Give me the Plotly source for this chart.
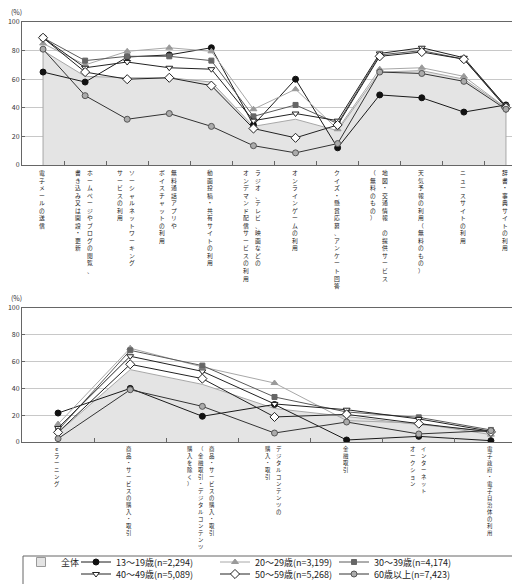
import plotly.graph_objects as go

# ---------------- data ----------------
top_labels = [
    ["電子メールの送信"],
    ["ホームページやブログの閲覧、", "書き込み又は開設・更新"],
    ["ソーシャルネットワーキング", "サービスの利用"],
    ["無料通話アプリや", "ボイスチャットの利用"],
    ["動画投稿・共有サイトの利用"],
    ["ラジオ、テレビ、映画などの", "オンデマンド配信サービスの利用"],
    ["オンラインゲームの利用"],
    ["クイズ・懸賞応募、アンケート回答"],
    ["地図・交通情報 の提供サービス", "（無料のもの）"],
    ["天気予報の利用（無料のもの）"],
    ["ニュースサイトの利用"],
    ["辞書・事典サイトの利用"],
]
top_total = [80, 62, 61, 61, 58, 27, 32, 24, 65, 66, 60, 40]
top_13_19 = [65, 58, 75.5, 77, 82, 28, 60, 12, 49, 47, 37, 42]
top_20_29 = [85, 70, 79.5, 82, 79.5, 39, 53, 25, 67, 68, 62, 40]
top_30_39 = [89, 73, 76, 76, 73, 34, 42, 29, 77, 80, 74, 41]
top_40_49 = [89, 68, 72, 68, 67, 31, 36, 31, 78, 82, 75, 41]
top_50_59 = [89, 65, 60, 61, 55.5, 25.5, 19, 28, 76, 79, 74, 40]
top_60_up = [81, 48.5, 32, 36, 27, 13.5, 8.5, 15, 65, 64, 58.5, 39]

bottom_labels = [
    ["eラーニング"],
    ["商品・サービスの購入・取引"],
    ["商品・サービスの購入・取引", "（金融取引・デジタルコンテンツ", "購入を除く）"],
    ["デジタルコンテンツの", "購入・取引"],
    ["金融取引"],
    ["インターネット", "オークション"],
    ["電子政府・電子自治体の利用"],
]
bot_total = [7, 54, 43, 25, 19, 13, 8]
bot_13_19 = [21.6, 40, 19.2, 28, 1.5, 4.2, 1]
bot_20_29 = [13.4, 70, 56, 44, 16, 14, 5.5]
bot_30_39 = [8.7, 68.4, 57, 33.6, 22.4, 18.4, 9]
bot_40_49 = [10.4, 64, 52.7, 28.4, 24.1, 17.2, 8]
bot_50_59 = [7.2, 58, 47.3, 18.7, 20.6, 13.7, 7.5]
bot_60_up = [2.5, 39, 26.6, 6.7, 14.9, 6, 8.5]

total_name = "全体"
series_names = ["13〜19歳(n=2,294)", "20〜29歳(n=3,199)", "30〜39歳(n=4,174)",
                "40〜49歳(n=5,089)", "50〜59歳(n=5,268)", "60歳以上(n=7,423)"]
y_ticks = [0, 20, 40, 60, 80, 100]

top_series = [top_13_19, top_20_29, top_30_39, top_40_49, top_50_59, top_60_up]
bot_series = [bot_13_19, bot_20_29, bot_30_39, bot_40_49, bot_50_59, bot_60_up]

# ---------------- styles ----------------
FONT = "Noto Sans CJK JP"
styles = [
    dict(line="#1a1a1a", symbol="circle", fill="#111111", edge="#111111", size=6),
    dict(line="#a8a8a8", symbol="triangle-up", fill="#9a9a9a", edge="#9a9a9a", size=6),
    dict(line="#5a5a5a", symbol="square", fill="#666666", edge="#666666", size=5),
    dict(line="#222222", symbol="triangle-down", fill="#ffffff", edge="#222222", size=6),
    dict(line="#222222", symbol="diamond", fill="#ffffff", edge="#222222", size=7),
    dict(line="#333333", symbol="circle", fill="#ababab", edge="#555555", size=6),
]
AREA_FILL = "#e4e4e4"
AREA_LINE = "#a8a8a8"

W, H = 520, 584
ML, MR, MT, MB = 14, 1, 14, 150
PW = W - ML - MR
PH = H - MT - MB


def py(px_y):  # pixel y -> paper y
    return (H - MB - px_y) / PH


def pxx(px_x):  # pixel x -> paper x
    return (px_x - ML) / PW


fig = go.Figure()

panels = [
    ("x", "y", top_total, top_series, True),
    ("x2", "y2", bot_total, bot_series, False),
]
for xa, ya, total, series, show in panels:
    n = len(total)
    idx = list(range(n))
    fig.add_trace(go.Scatter(
        x=[idx[0]] + idx + [idx[-1]], y=[0] + total + [0],
        mode="lines", fill="toself", fillcolor=AREA_FILL,
        line=dict(color=AREA_LINE, width=1), showlegend=False,
        hoverinfo="skip", xaxis=xa, yaxis=ya, name=total_name))
    for k, (vals, st) in enumerate(zip(series, styles)):
        fig.add_trace(go.Scatter(
            x=idx, y=vals, mode="lines+markers", name=series_names[k],
            line=dict(color=st["line"], width=1),
            marker=dict(symbol=st["symbol"], size=st["size"], color=st["fill"],
                        line=dict(color=st["edge"], width=1)),
            xaxis=xa, yaxis=ya, showlegend=show,
            legend=f"legend{k + 2}" if show else None))

# legend-only marker for the 全体 area
fig.add_trace(go.Scatter(
    x=[None], y=[None], mode="markers", name=total_name,
    marker=dict(symbol="square", size=9, color=AREA_FILL,
                line=dict(color="#999999", width=1)),
    legend="legend", xaxis="x", yaxis="y"))

axis_common = dict(showline=True, mirror=True, linecolor="#666666", linewidth=1,
                   zeroline=False)
n_top = len(top_total)
n_bot = len(bot_total)
fig.update_layout(
    xaxis=dict(domain=[0, 1], anchor="y", range=[-0.5, n_top - 0.5],
               tickmode="array", tickvals=[i + 0.5 for i in range(n_top - 1)],
               ticks="inside", ticklen=4, tickcolor="#666666",
               showticklabels=False, showgrid=False, **axis_common),
    yaxis=dict(domain=[py(157), 1], anchor="x", range=[0, 100],
               tickmode="array", tickvals=y_ticks, ticks="inside", ticklen=3,
               tickcolor="#666666", showgrid=True, gridcolor="#c8c8c8",
               tickfont=dict(size=7, color="#333333", family=FONT),
               **axis_common),
    xaxis2=dict(domain=[0, 1], anchor="y2", range=[-0.5, n_bot - 0.5],
                tickmode="array", tickvals=[i + 0.5 for i in range(n_bot - 1)],
                ticks="inside", ticklen=4, tickcolor="#666666",
                showticklabels=False, showgrid=False, **axis_common),
    yaxis2=dict(domain=[0, py(300)], anchor="x2", range=[0, 100],
                tickmode="array", tickvals=y_ticks, ticks="inside", ticklen=3,
                tickcolor="#666666", showgrid=True, gridcolor="#c8c8c8",
                tickfont=dict(size=7, color="#333333", family=FONT),
                **axis_common),
)

annotations = []
# vertical category labels (characters stacked, columns right-to-left)
for xref, labels, y0, fs, gap in [("x", top_labels, py(158), 5.8, 12),
                                  ("x2", bottom_labels, py(435), 5.4, 11)]:
    for i, cols in enumerate(labels):
        m = len(cols)
        for j, col in enumerate(cols):
            shift = (m - 1) / 2 * gap - j * gap - 1
            annotations.append(dict(
                x=i, xref=xref, y=y0, yref="paper", xanchor="center",
                yanchor="top", showarrow=False, xshift=shift, align="center",
                text="<br>".join(list(col)),
                font=dict(size=fs, color="#1a1a1a", family=FONT)))

for ypx in (4, 290):
    annotations.append(dict(
        x=pxx(1), xref="paper", y=py(ypx), yref="paper", xanchor="left",
        yanchor="middle", showarrow=False, text="(%)",
        font=dict(size=7, color="#333333", family=FONT)))

# legend frame
shapes = [dict(type="rect", xref="paper", yref="paper",
               x0=pxx(15), x1=pxx(505), y0=py(548), y1=py(583),
               line=dict(color="#666666", width=1), fillcolor="rgba(0,0,0,0)")]

legend_base = dict(xanchor="left", yanchor="middle", orientation="v",
                   bgcolor="rgba(0,0,0,0)", borderwidth=0, itemwidth=30,
                   font=dict(size=9, color="#222222", family=FONT))
legend_pos = {
    "legend": (13, 554),
    "legend2": (68, 554), "legend3": (207, 554), "legend4": (326, 554),
    "legend5": (68, 566), "legend6": (207, 566), "legend7": (326, 566),
}
legend_layout = {k: dict(legend_base, x=pxx(xp), y=py(ypp))
                 for k, (xp, ypp) in legend_pos.items()}

fig.update_layout(
    width=W, height=H,
    margin=dict(l=ML, r=MR, t=MT, b=MB, autoexpand=False),
    paper_bgcolor="white", plot_bgcolor="white",
    font=dict(family=FONT, size=9, color="#222222"),
    annotations=annotations, shapes=shapes,
    **legend_layout,
)

fig.write_html("out.html")
